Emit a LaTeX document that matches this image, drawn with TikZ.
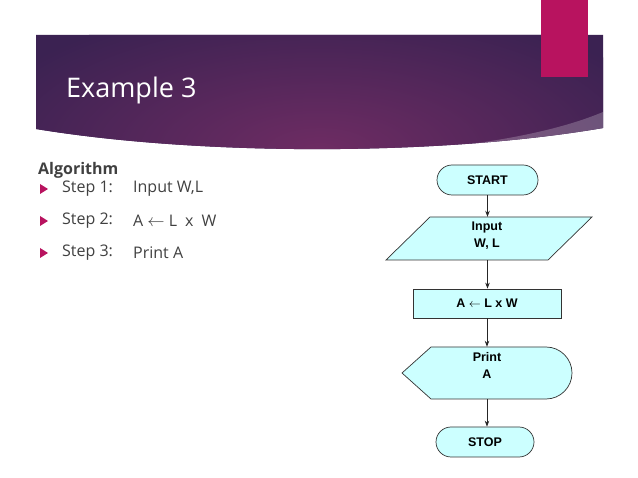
\documentclass[tikz,border=0pt]{standalone}
\usepackage{fontspec}
\setmainfont{Open Sans}
\newfontfamily\arialb{Liberation Sans}
\usetikzlibrary{shapes.misc,arrows.meta}
\definecolor{bandark}{HTML}{3B2252}
\definecolor{banmid}{HTML}{6E2C63}
\definecolor{pinkbar}{HTML}{B8135F}
\definecolor{flowfill}{HTML}{CCFFFF}
\definecolor{textgray}{HTML}{404040}
\tikzset{
  flow/.style={draw=black!80, line width=0.7pt, fill=flowfill, font=\arialb\bfseries\fontsize{12.5}{15}\selectfont, align=center, inner sep=0pt},
  term/.style={flow, rounded rectangle},
  flowtxt/.style={font=\arialb\bfseries\fontsize{12.5}{16.5}\selectfont, align=center, inner sep=0pt},
  conn/.style={draw=black!85, line width=0.8pt, -{Stealth[length=6pt,width=4.5pt]}},
  bul/.style={fill=pinkbar},
  steptxt/.style={anchor=west, text=textgray, font=\fontsize{16}{19}\selectfont, inner sep=0pt},
}
\begin{document}
\begin{tikzpicture}[x=1pt,y=-1pt]
\useasboundingbox (0,0) rectangle (638,478);
% banner
\begin{scope}
\clip (36,35) -- (603,35) -- (603,128) .. controls (440,156) and (200,156) .. (36,129) -- cycle;
\fill[bandark] (0,0) rectangle (638,170);
\shade[inner color=banmid, outer color=bandark] (320,150) ellipse (360 and 150);
\fill[white, opacity=0.22] (400,170) -- (420,150) .. controls (500,142) and (560,130) .. (603,112) -- (610,170) -- cycle;
\end{scope}
\fill[pinkbar] (541,0) rectangle (588,77);
\node[anchor=west, text=white, font=\fontsize{27}{32}\selectfont, inner sep=0pt] (title) at (66,90) {Example 3};
% algorithm
\node[anchor=west, text=textgray, font=\bfseries\fontsize{16}{19}\selectfont, inner sep=0pt] (alg) at (38,170) {Algorithm};
\foreach \yy in {189,221,253}{
  \fill[bul] (40,\yy-5) -- (48,\yy) -- (40,\yy+5) -- cycle;
}
\node[steptxt] (s1) at (62,189) {Step 1:};
\node[steptxt] (s2) at (62,221) {Step 2:};
\node[steptxt] (s3) at (62,253) {Step 3:};
\node[steptxt] (t1) at (133,189) {Input W,L};
\node[steptxt] (t2) at (133,221) {A $\leftarrow$ L\enspace x\enspace W};
\node[steptxt] (t3) at (133,253) {Print A};
% flowchart
\node[term, minimum width=101pt, minimum height=30pt] (start) at (487.5,180) {START};
\node[minimum width=162pt, minimum height=43pt, inner sep=0pt] (input) at (488,238.5) {};
\draw[flow] (430,217) -- (592,217) -- (548,260) -- (386,260) -- cycle;
\node[flowtxt] (inputtxt) at (487,235.5) {Input\\W, L};
\node[flow, minimum width=148pt, minimum height=29pt] (calc) at (487,303.5) {A $\leftarrow$ L x W};
\node[minimum width=170pt, minimum height=52pt, inner sep=0pt] (print) at (487,373) {};
\draw[flow] (402,373) -- (431,347) -- (546,347) arc[start angle=-90, end angle=90, radius=26] -- (431,399) -- cycle;
\node[flowtxt] (printtxt) at (487,365.5) {Print\\A};
\node[term, minimum width=98pt, minimum height=30pt] (stop) at (485,442) {STOP};
\draw[conn] (start.south) -- (start.south |- input.north);
\draw[conn] (input.south -| start.south) -- (start.south |- calc.north);
\draw[conn] (calc.south) -- (print.north);
\draw[conn] (print.south) -- (print.south |- stop.north);
\end{tikzpicture}
\end{document}
